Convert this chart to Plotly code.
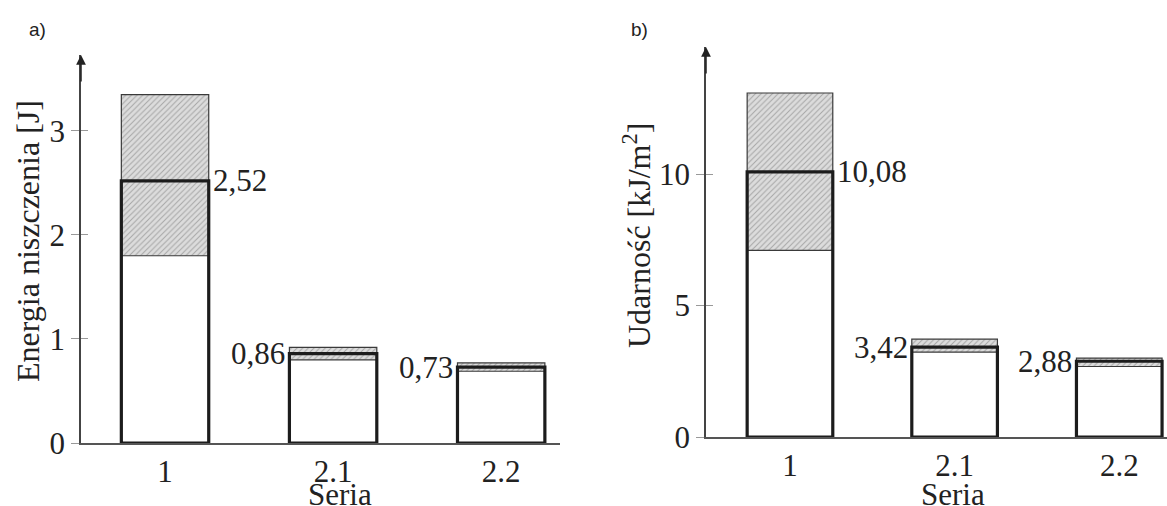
import plotly.graph_objects as go

W, H = 1167, 506

series = ["1", "2.1", "2.2"]

energy_mean = [2.52, 0.86, 0.73]
energy_low = [1.80, 0.80, 0.69]
energy_high = [3.35, 0.92, 0.77]
energy_labels = ["2,52", "0,86", "0,73"]

impact_mean = [10.08, 3.42, 2.88]
impact_low = [7.10, 3.23, 2.68]
impact_high = [13.08, 3.72, 3.00]
impact_labels = ["10,08", "3,42", "2,88"]

energy_ticks = [0, 1, 2, 3]
impact_ticks = [0, 5, 10]

SERIF = "Liberation Serif, Times New Roman, serif"
FS = 31
FS_T = 32
BAR_W = 0.52

fig = go.Figure()


def add_panel(xa, ya, mean, low, high):
    fig.add_trace(go.Bar(
        x=series, y=[h - l for h, l in zip(high, low)], base=low,
        width=BAR_W, xaxis=xa, yaxis=ya,
        marker=dict(color="#dcdcdc",
                    pattern=dict(shape="/", fgcolor="#707070", bgcolor="#dcdcdc",
                                 size=4, solidity=0.25),
                    line=dict(color="#3a3a3a", width=1.2)),
        hoverinfo="skip"))
    fig.add_trace(go.Bar(
        x=series, y=mean, base=[0] * len(mean),
        width=BAR_W, xaxis=xa, yaxis=ya,
        marker=dict(color="rgba(0,0,0,0)", line=dict(color="#1c1c1c", width=3.2)),
        hoverinfo="skip"))


add_panel("x", "y", energy_mean, energy_low, energy_high)
add_panel("x2", "y2", impact_mean, impact_low, impact_high)

# invisible traces so the inner-tick overlay axes exist
fig.add_trace(go.Scatter(x=[series[0]], y=[0], xaxis="x", yaxis="y3", mode="markers",
                         marker=dict(opacity=0), hoverinfo="skip"))
fig.add_trace(go.Scatter(x=[series[0]], y=[0], xaxis="x2", yaxis="y4", mode="markers",
                         marker=dict(opacity=0), hoverinfo="skip"))

axis_font = dict(family=SERIF, size=FS, color="#222")
title_font = dict(family=SERIF, size=FS_T, color="#222")

common_x = dict(type="category", showline=True, linecolor="#555", linewidth=1.5,
                ticks="", showgrid=False, zeroline=False, tickfont=axis_font,
                automargin=False)
common_y = dict(showline=True, linecolor="#444", linewidth=1.5, ticks="outside",
                ticklen=8, tickcolor="#999", tickwidth=1, showgrid=False,
                zeroline=False, tickfont=axis_font, automargin=False)
inner_y = dict(showline=False, ticks="inside", ticklen=7, tickcolor="#999", tickwidth=1,
               showgrid=False, zeroline=False, showticklabels=False, automargin=False)

XA0, XA1 = 81, 560
XB0, XB1 = 706, 1167
RA = [-0.5, 2.35]
RB = [-0.51, 2.29]
DA = [(H - 443) / H, (H - 55) / H]
DB = [(H - 437) / H, (H - 47) / H]
YRA = [0, 3.73]
YRB = [0, 14.83]

fig.update_layout(
    width=W, height=H,
    margin=dict(l=0, r=0, t=0, b=0, autoexpand=False),
    paper_bgcolor="white", plot_bgcolor="white",
    showlegend=False, barmode="overlay",
    xaxis=dict(common_x, domain=[XA0 / W, XA1 / W], range=RA, anchor="y"),
    yaxis=dict(common_y, domain=DA, range=YRA, tickvals=energy_ticks, anchor="x"),
    yaxis3=dict(inner_y, domain=DA, range=YRA, tickvals=energy_ticks, anchor="x",
                overlaying="y"),
    xaxis2=dict(common_x, domain=[XB0 / W, XB1 / W], range=RB, anchor="y2"),
    yaxis2=dict(common_y, domain=DB, range=YRB, tickvals=impact_ticks, anchor="x2"),
    yaxis4=dict(inner_y, domain=DB, range=YRB, tickvals=impact_ticks, anchor="x2",
                overlaying="y2"),
)

ann = []
# arrows on y axes
for xr, yr in (("x", "y"), ("x2", "y2")):
    ann.append(dict(x=0, y=1, xref=xr + " domain", yref=yr + " domain", text="",
                    showarrow=True, ax=0, ay=28, arrowhead=2, arrowsize=1.3,
                    arrowwidth=1.5, arrowcolor="#222"))

# value labels
half_px_a = BAR_W / 2 * (XA1 - XA0) / (RA[1] - RA[0])
half_px_b = BAR_W / 2 * (XB1 - XB0) / (RB[1] - RB[0])
for xr, yr, means, labels, half in (("x", "y", energy_mean, energy_labels, half_px_a),
                                    ("x2", "y2", impact_mean, impact_labels, half_px_b)):
    for i, (m, lab) in enumerate(zip(means, labels)):
        if i == 0:
            ann.append(dict(x=i, y=m, xref=xr, yref=yr, text=lab, showarrow=False,
                            xanchor="left", xshift=half + 2, font=axis_font))
        else:
            ann.append(dict(x=i, y=m, xref=xr, yref=yr, text=lab, showarrow=False,
                            xanchor="right", xshift=-half - 2, font=axis_font))

# axis titles
ann.append(dict(x=28 / W, y=(H - 241) / H, xref="paper", yref="paper",
                text="Energia niszczenia [J]", textangle=-90, showarrow=False,
                font=title_font, xanchor="center", yanchor="middle"))
ann.append(dict(x=637 / W, y=(H - 236) / H, xref="paper", yref="paper",
                text="Udarność [kJ/m<sup>2</sup>]", textangle=-90, showarrow=False,
                font=title_font, xanchor="center", yanchor="middle"))
ann.append(dict(x=340 / W, y=(H - 494) / H, xref="paper", yref="paper",
                text="Seria", showarrow=False, font=axis_font,
                xanchor="center", yanchor="middle"))
ann.append(dict(x=953 / W, y=(H - 494) / H, xref="paper", yref="paper",
                text="Seria", showarrow=False, font=axis_font,
                xanchor="center", yanchor="middle"))

# panel letters
letter_font = dict(family="Liberation Sans, Arial, sans-serif", size=19, color="#222")
ann.append(dict(x=37 / W, y=(H - 30) / H, xref="paper", yref="paper", text="a)",
                showarrow=False, font=letter_font, xanchor="center", yanchor="middle"))
ann.append(dict(x=639 / W, y=(H - 30) / H, xref="paper", yref="paper", text="b)",
                showarrow=False, font=letter_font, xanchor="center", yanchor="middle"))

fig.update_layout(annotations=ann)

fig.write_html("out.html", config={"displayModeBar": False},
               post_script="document.body.style.margin='0';document.body.style.overflow='hidden';")
